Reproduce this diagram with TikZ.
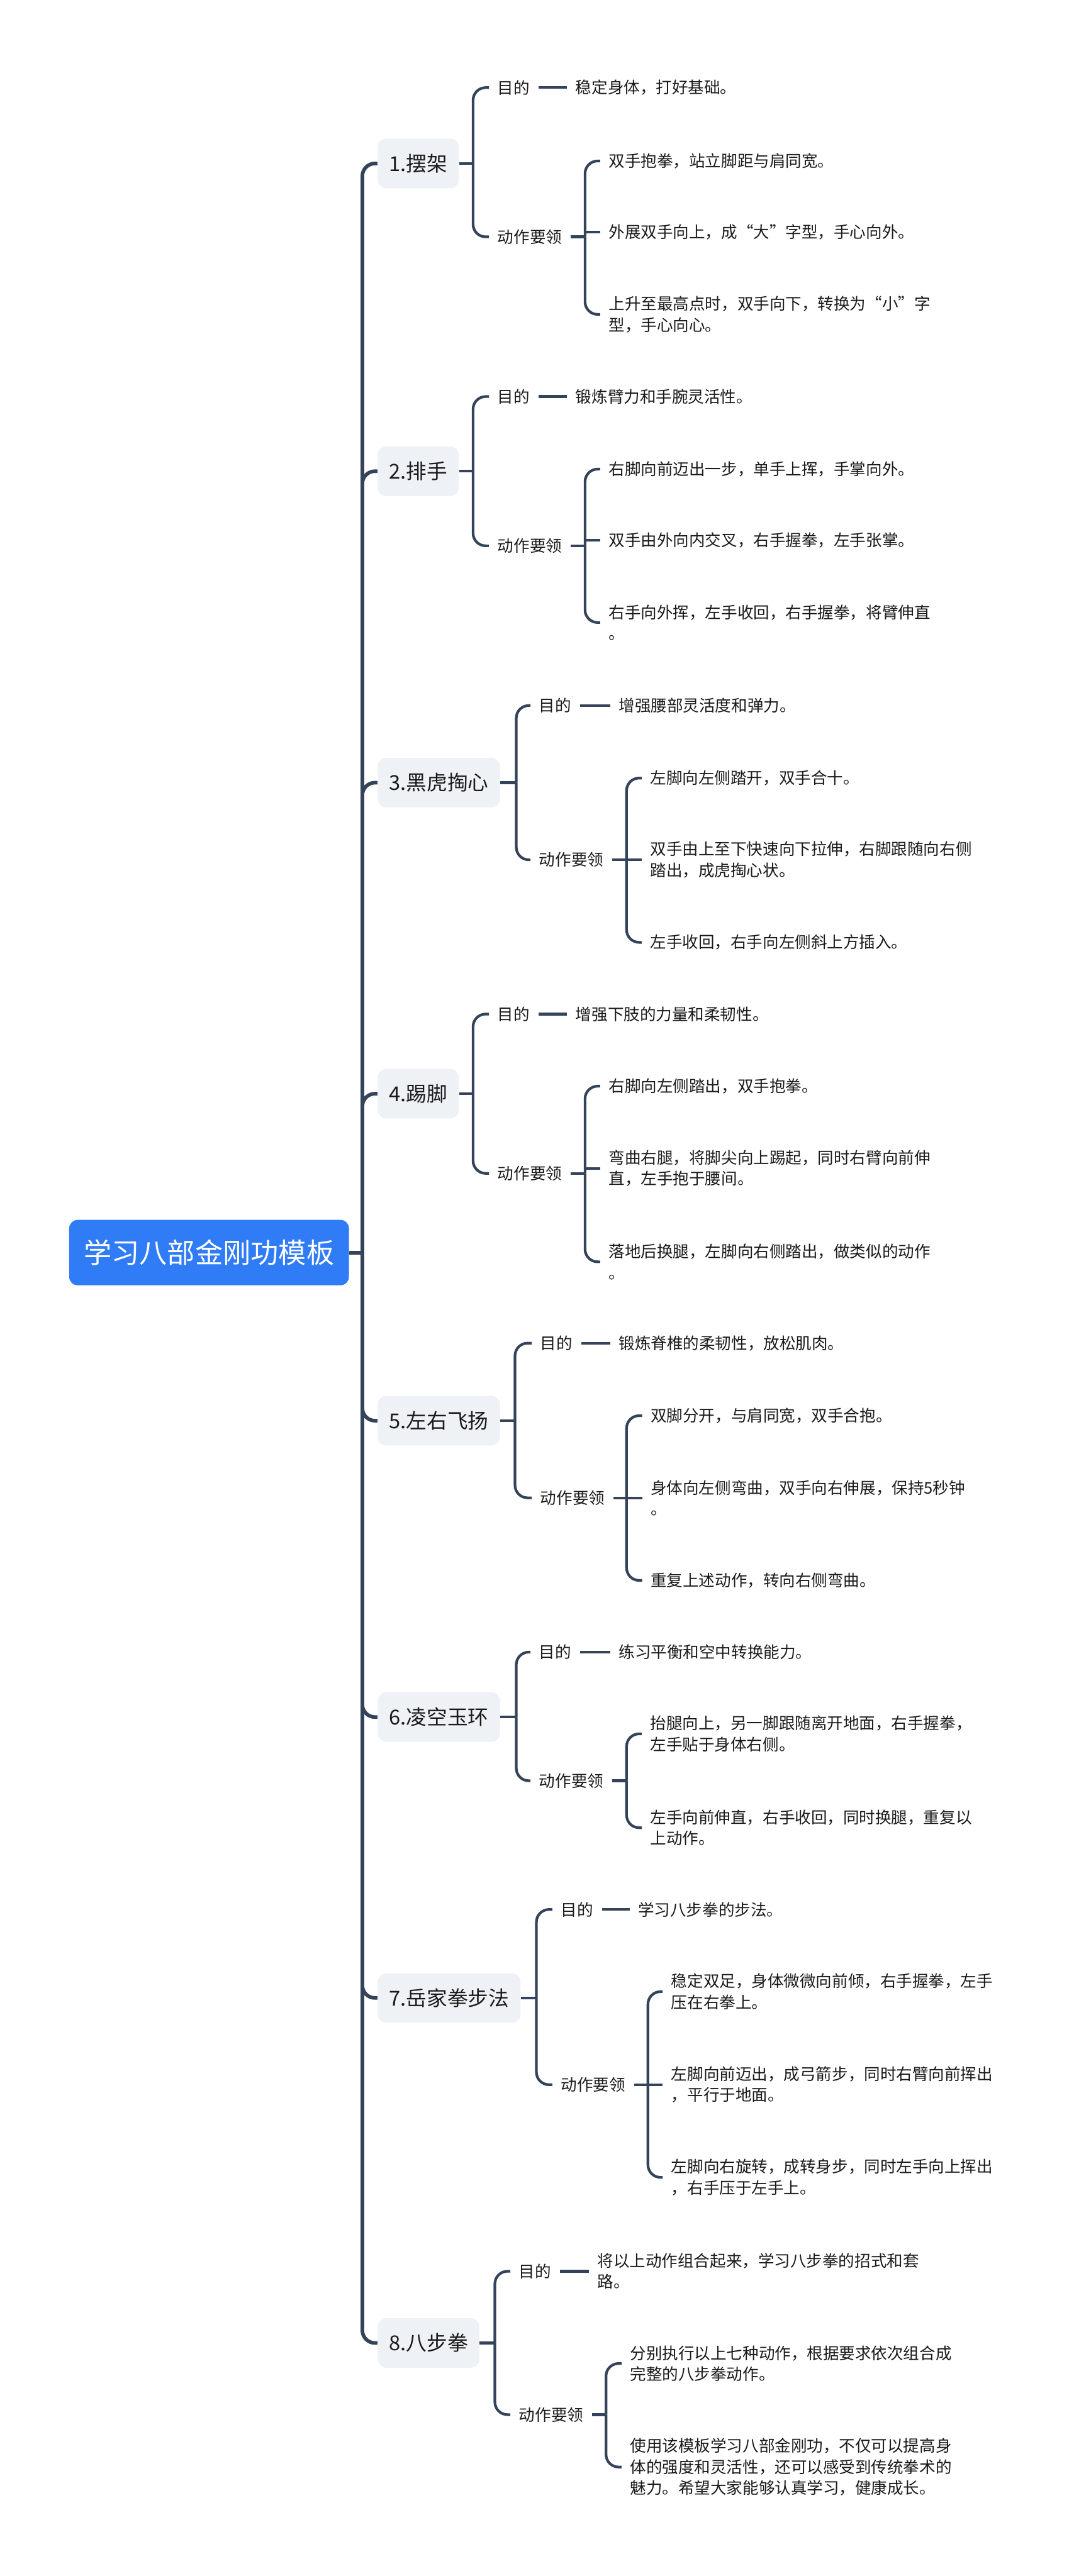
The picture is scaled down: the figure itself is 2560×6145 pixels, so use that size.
\documentclass[tikz,border=0pt]{standalone}
\usepackage{fontspec}
\setmainfont{Noto Sans CJK SC}
\definecolor{rootblue}{HTML}{2F7CF6}
\definecolor{slateline}{HTML}{34435A}
\definecolor{mistgray}{HTML}{EEF1F5}
\definecolor{inkblack}{HTML}{1A1A1A}
\tikzset{
  rootbox/.style={fill=rootblue, text=white, rounded corners=6pt, inner xsep=10.5pt, minimum height=46.8pt, font=\fontsize{19.9}{24}\selectfont},
  branchbox/.style={fill=mistgray, text=inkblack, rounded corners=6pt, inner xsep=8.2pt, minimum height=35.4pt, anchor=west, font=\fontsize{14.7}{18}\selectfont},
  tagbox/.style={text=inkblack, inner xsep=6pt, inner ysep=2pt, anchor=west, font=\fontsize{11.5}{15}\selectfont},
  leafbox/.style={tagbox, align=left},
  trunkline/.style={draw=slateline, line width=2.6pt, rounded corners=9pt},
  twigline/.style={draw=slateline, line width=1.9pt, rounded corners=9pt}
}
\begin{document}
\begin{tikzpicture}[x=0.3pt, y=-0.3pt]
  % Fondo y tamaño
  \fill[white] (0,0) rectangle (2560,6145);

  % Nodo raíz
  \node[rootbox] (root) at (498.5,2988) {学习八部金刚功模板};
  \coordinate (tj) at (864,2988);
  \draw[trunkline] (root.east) -- (tj);

  % 1. 摆架
  \node[branchbox] (b1) at (900,390) {1.摆架};
  \coordinate (j1) at (1128,390);
  \node[tagbox] (g1) at (1166,209) {目的};
  \node[tagbox] (p1) at (1352,209) {稳定身体，打好基础。};
  \node[tagbox] (a1) at (1166,565) {动作要领};
  \coordinate (k1) at (1395,565);
  \node[leafbox] (c11) at (1431,384) {双手抱拳，站立脚距与肩同宽。};
  \node[leafbox] (c12) at (1431,554) {外展双手向上，成“大”字型，手心向外。};
  \node[leafbox] (c13) at (1431,750) {上升至最高点时，双手向下，转换为“小”字\\型，手心向心。};
  \draw[trunkline] (tj) |- (b1.west);
  \draw[twigline] (b1.east) -- (j1);
  \draw[twigline] (j1) |- (g1.west);
  \draw[twigline] (j1) |- (a1.west);
  \draw[twigline] (g1.east) -- (p1.west);
  \draw[twigline] (a1.east) -- (k1);
  \draw[twigline] (k1) |- (c11.west);
  \draw[twigline] (c12.west -| k1) -- (c12.west);
  \draw[twigline] (k1) |- (c13.west);

  % 2. 排手
  \node[branchbox] (b2) at (900,1124) {2.排手};
  \coordinate (j2) at (1128,1124);
  \node[tagbox] (g2) at (1166,946) {目的};
  \node[tagbox] (p2) at (1352,946) {锻炼臂力和手腕灵活性。};
  \node[tagbox] (a2) at (1166,1302) {动作要领};
  \coordinate (k2) at (1395,1302);
  \node[leafbox] (c21) at (1431,1119) {右脚向前迈出一步，单手上挥，手掌向外。};
  \node[leafbox] (c22) at (1431,1289) {双手由外向内交叉，右手握拳，左手张掌。};
  \node[leafbox] (c23) at (1431,1485) {右手向外挥，左手收回，右手握拳，将臂伸直\\。};
  \draw[trunkline] (tj) |- (b2.west);
  \draw[twigline] (b2.east) -- (j2);
  \draw[twigline] (j2) |- (g2.west);
  \draw[twigline] (j2) |- (a2.west);
  \draw[twigline] (g2.east) -- (p2.west);
  \draw[twigline] (a2.east) -- (k2);
  \draw[twigline] (k2) |- (c21.west);
  \draw[twigline] (c22.west -| k2) -- (c22.west);
  \draw[twigline] (k2) |- (c23.west);

  % 3. 黑虎掏心
  \node[branchbox] (b3) at (900,1867) {3.黑虎掏心};
  \coordinate (j3) at (1231,1867);
  \node[tagbox] (g3) at (1265,1683) {目的};
  \node[tagbox] (p3) at (1455,1683) {增强腰部灵活度和弹力。};
  \node[tagbox] (a3) at (1265,2051) {动作要领};
  \coordinate (k3) at (1494,2051);
  \node[leafbox] (c31) at (1530,1856) {左脚向左侧踏开，双手合十。};
  \node[leafbox] (c32) at (1530,2051) {双手由上至下快速向下拉伸，右脚跟随向右侧\\踏出，成虎掏心状。};
  \node[leafbox] (c33) at (1530,2248) {左手收回，右手向左侧斜上方插入。};
  \draw[trunkline] (tj) |- (b3.west);
  \draw[twigline] (b3.east) -- (j3);
  \draw[twigline] (j3) |- (g3.west);
  \draw[twigline] (j3) |- (a3.west);
  \draw[twigline] (g3.east) -- (p3.west);
  \draw[twigline] (a3.east) -- (k3);
  \draw[twigline] (k3) |- (c31.west);
  \draw[twigline] (c32.west -| k3) -- (c32.west);
  \draw[twigline] (k3) |- (c33.west);

  % 4. 踢脚
  \node[branchbox] (b4) at (900,2609) {4.踢脚};
  \coordinate (j4) at (1128,2609);
  \node[tagbox] (g4) at (1166,2419) {目的};
  \node[tagbox] (p4) at (1352,2419) {增强下肢的力量和柔韧性。};
  \node[tagbox] (a4) at (1166,2799) {动作要领};
  \coordinate (k4) at (1395,2799);
  \node[leafbox] (c41) at (1431,2591) {右脚向左侧踏出，双手抱拳。};
  \node[leafbox] (c42) at (1431,2787) {弯曲右腿，将脚尖向上踢起，同时右臂向前伸\\直，左手抱于腰间。};
  \node[leafbox] (c43) at (1431,3010) {落地后换腿，左脚向右侧踏出，做类似的动作\\。};
  \draw[trunkline] (tj) |- (b4.west);
  \draw[twigline] (b4.east) -- (j4);
  \draw[twigline] (j4) |- (g4.west);
  \draw[twigline] (j4) |- (a4.west);
  \draw[twigline] (g4.east) -- (p4.west);
  \draw[twigline] (a4.east) -- (k4);
  \draw[twigline] (k4) |- (c41.west);
  \draw[twigline] (c42.west -| k4) -- (c42.west);
  \draw[twigline] (k4) |- (c43.west);

  % 5. 左右飞扬
  \node[branchbox] (b5) at (900,3389) {5.左右飞扬};
  \coordinate (j5) at (1228,3389);
  \node[tagbox] (g5) at (1268,3204) {目的};
  \node[tagbox] (p5) at (1455,3204) {锻炼脊椎的柔韧性，放松肌肉。};
  \node[tagbox] (a5) at (1268,3573) {动作要领};
  \coordinate (k5) at (1494,3573);
  \node[leafbox] (c51) at (1531,3377) {双脚分开，与肩同宽，双手合抱。};
  \node[leafbox] (c52) at (1531,3573) {身体向左侧弯曲，双手向右伸展，保持5秒钟\\。};
  \node[leafbox] (c53) at (1531,3770) {重复上述动作，转向右侧弯曲。};
  \draw[trunkline] (tj) |- (b5.west);
  \draw[twigline] (b5.east) -- (j5);
  \draw[twigline] (j5) |- (g5.west);
  \draw[twigline] (j5) |- (a5.west);
  \draw[twigline] (g5.east) -- (p5.west);
  \draw[twigline] (a5.east) -- (k5);
  \draw[twigline] (k5) |- (c51.west);
  \draw[twigline] (c52.west -| k5) -- (c52.west);
  \draw[twigline] (k5) |- (c53.west);

  % 6. 凌空玉环
  \node[branchbox] (b6) at (900,4096) {6.凌空玉环};
  \coordinate (j6) at (1231,4096);
  \node[tagbox] (g6) at (1265,3941) {目的};
  \node[tagbox] (p6) at (1455,3941) {练习平衡和空中转换能力。};
  \node[tagbox] (a6) at (1265,4248) {动作要领};
  \coordinate (k6) at (1494,4248);
  \node[leafbox] (c61) at (1530,4136) {抬腿向上，另一脚跟随离开地面，右手握拳，\\左手贴于身体右侧。};
  \node[leafbox] (c62) at (1530,4360) {左手向前伸直，右手收回，同时换腿，重复以\\上动作。};
  \draw[trunkline] (tj) |- (b6.west);
  \draw[twigline] (b6.east) -- (j6);
  \draw[twigline] (j6) |- (g6.west);
  \draw[twigline] (j6) |- (a6.west);
  \draw[twigline] (g6.east) -- (p6.west);
  \draw[twigline] (a6.east) -- (k6);
  \draw[twigline] (k6) |- (c61.west);
  \draw[twigline] (k6) |- (c62.west);

  % 7. 岳家拳步法
  \node[branchbox] (b7) at (900,4766) {7.岳家拳步法};
  \coordinate (j7) at (1279,4766);
  \node[tagbox] (g7) at (1317,4555) {目的};
  \node[tagbox] (p7) at (1501,4555) {学习八步拳的步法。};
  \node[tagbox] (a7) at (1317,4973) {动作要领};
  \coordinate (k7) at (1545,4973);
  \node[leafbox] (c71) at (1580,4751) {稳定双足，身体微微向前倾，右手握拳，左手\\压在右拳上。};
  \node[leafbox] (c72) at (1580,4973) {左脚向前迈出，成弓箭步，同时右臂向前挥出\\，平行于地面。};
  \node[leafbox] (c73) at (1580,5194) {左脚向右旋转，成转身步，同时左手向上挥出\\，右手压于左手上。};
  \draw[trunkline] (tj) |- (b7.west);
  \draw[twigline] (b7.east) -- (j7);
  \draw[twigline] (j7) |- (g7.west);
  \draw[twigline] (j7) |- (a7.west);
  \draw[twigline] (g7.east) -- (p7.west);
  \draw[twigline] (a7.east) -- (k7);
  \draw[twigline] (k7) |- (c71.west);
  \draw[twigline] (c72.west -| k7) -- (c72.west);
  \draw[twigline] (k7) |- (c73.west);

  % 8. 八步拳
  \node[branchbox] (b8) at (900,5589) {8.八步拳};
  \coordinate (j8) at (1180,5589);
  \node[tagbox] (g8) at (1217,5418) {目的};
  \node[leafbox] (p8) at (1404,5418) {将以上动作组合起来，学习八步拳的招式和套\\路。};
  \node[tagbox] (a8) at (1217,5760) {动作要领};
  \coordinate (k8) at (1445,5760);
  \node[leafbox] (c81) at (1482,5638) {分别执行以上七种动作，根据要求依次组合成\\完整的八步拳动作。};
  \node[leafbox] (c82) at (1482,5885) {使用该模板学习八部金刚功，不仅可以提高身\\体的强度和灵活性，还可以感受到传统拳术的\\魅力。希望大家能够认真学习，健康成长。};
  \draw[trunkline] (tj) |- (b8.west);
  \draw[twigline] (b8.east) -- (j8);
  \draw[twigline] (j8) |- (g8.west);
  \draw[twigline] (j8) |- (a8.west);
  \draw[twigline] (g8.east) -- (p8.west);
  \draw[twigline] (a8.east) -- (k8);
  \draw[twigline] (k8) |- (c81.west);
  \draw[twigline] (k8) |- (c82.west);
\end{tikzpicture}
\end{document}
